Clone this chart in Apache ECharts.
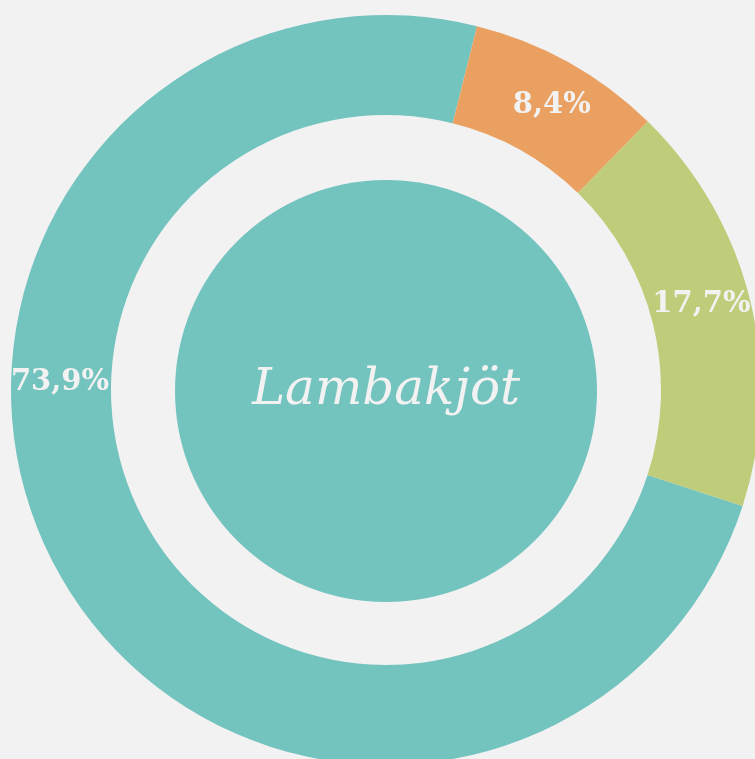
<!DOCTYPE html>
<html>
<head>
<meta charset="utf-8">
<script src="https://cdn.jsdelivr.net/npm/echarts@6/dist/echarts.min.js"></script>
<style>
html,body{margin:0;padding:0;background:#f2f2f2;}
#chart{width:755px;height:759px;}
</style>
</head>
<body>
<div id="chart"></div>
<script>
var categories = ['Annað', 'Hluti A', 'Hluti B'];
var values = [73.9, 8.4, 17.7];
var colorList = ['#73c3bf', '#eaa061', '#bfcc7a'];
var centerTitle = 'Lambakjöt';

var cx = 386, cy = 390, rIn = 275, rOut = 375;
var myChart = echarts.init(document.getElementById('chart'));
var option = {
	backgroundColor: '#f2f2f2',
	animation: false,
	series: [
		{
			type: 'pie',
			center: [cx, cy],
			radius: [rIn, rOut],
			startAngle: -18,
			clockwise: true,
			silent: true,
			data: categories.map(function (c, i) {
				return { name: c, value: values[i], itemStyle: { color: colorList[i] } };
			}),
			label: {
				show: true,
				position: 'inside',
				formatter: function (p) {
					return String(p.value.toFixed(1)).replace('.', ',') + '%';
				},
				color: '#f2f2f2',
				fontFamily: 'DejaVu Serif',
				fontWeight: 'bold',
				fontSize: 29
			},
			// big slice label sits at 9 o'clock on the ring, not at its middle
			labelLayout: function (params) {
				if (params.dataIndex === 0) {
					return {
						x: cx - (rIn + rOut) / 2 - 1,
						y: cy - 8,
						align: 'center',
						verticalAlign: 'middle'
					};
				}
				if (params.dataIndex === 1) return { dx: 6, dy: 2 };
				return { dx: -3, dy: -7 };
			},
			labelLine: { show: false }
		},
		{
			type: 'pie',
			center: [cx, cy + 1],
			radius: [0, 211],
			silent: true,
			data: [{ name: centerTitle, value: 1, itemStyle: { color: '#73c3bf' } }],
			label: {
				show: true,
				position: 'center',
				formatter: centerTitle,
				color: '#f2f2f2',
				fontFamily: 'DejaVu Serif',
				fontStyle: 'italic',
				fontSize: 50
			},
			labelLine: { show: false }
		}
	]
};
myChart.setOption(option);
window.addEventListener('resize', function () {
	myChart.resize();
});
</script>
</body>
</html>
